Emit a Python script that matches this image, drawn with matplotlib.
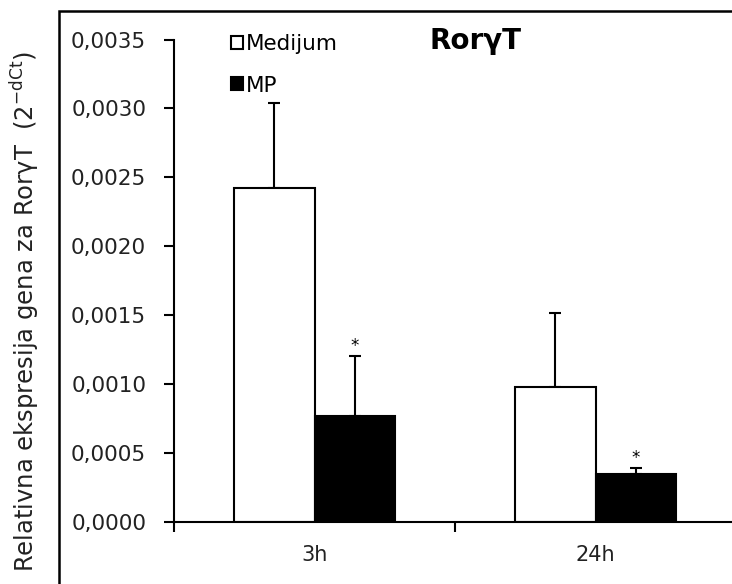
import matplotlib
matplotlib.use("Agg")
import matplotlib.pyplot as plt
import numpy as np
from matplotlib.ticker import FuncFormatter, FixedLocator
from matplotlib.patches import Rectangle

categories = ["3h", "24h"]
series_names = ["Medijum", "MP"]
medijum = [0.00242, 0.000975]
medijum_err = [0.00062, 0.000537]
mp = [0.000766, 0.000345]
mp_err = [0.000436, 0.000041]
significant_mp = [True, True]
yticks = [0.0, 0.0005, 0.0010, 0.0015, 0.0020, 0.0025, 0.0030, 0.0035]

plt.rcParams['font.family'] = ['DejaVu Sans']

W, H = 732, 584
fig = plt.figure(figsize=(W / 100, H / 100), dpi=100)
ax = fig.add_axes([174 / W, 62.5 / H, (736 - 174) / W, (521.5 - 39.5) / H])

x = np.arange(len(categories))
bw = 0.288
ax.bar(x - bw / 2, medijum, bw, color="white", edgecolor="black", linewidth=1.5,
       label=series_names[0], zorder=2)
ax.bar(x + bw / 2, mp, bw, color="black", edgecolor="black", linewidth=1.5,
       label=series_names[1], zorder=2)
ax.errorbar(x - bw / 2, medijum, yerr=[np.zeros(len(x)), medijum_err], fmt="none",
            ecolor="black", elinewidth=1.5, capsize=4.5, capthick=1.5, zorder=1)
ax.errorbar(x + bw / 2, mp, yerr=[np.zeros(len(x)), mp_err], fmt="none",
            ecolor="black", elinewidth=1.5, capsize=4.5, capthick=1.5, zorder=3)
for i, sig in enumerate(significant_mp):
    if sig:
        ax.annotate("*", (x[i] + bw / 2, mp[i] + mp_err[i]), xytext=(0, 1),
                    textcoords="offset points", ha="center", va="bottom", fontsize=12)

ax.set_xlim(-0.5, 1.5)
ax.set_ylim(0, 0.0035)
ax.spines["top"].set_visible(False)
ax.spines["right"].set_visible(False)
for s in ("left", "bottom"):
    ax.spines[s].set_linewidth(1.5)
ax.yaxis.set_major_locator(FixedLocator(yticks))
ax.yaxis.set_major_formatter(FuncFormatter(lambda v, p: f"{v:.4f}".replace(".", ",")))
ax.tick_params(axis="y", direction="out", length=7, width=1.5, labelsize=15.5, pad=13,
               colors="black", labelcolor="#222222")
ax.set_xticks([-0.5, 0.5, 1.5])
ax.set_xticklabels([])
ax.set_xticks(x, minor=True)
ax.set_xticklabels(categories, minor=True)
ax.tick_params(axis="x", which="major", direction="out", length=7, width=1.5)
ax.tick_params(axis="x", which="minor", length=0, labelsize=15, pad=17, labelcolor="#222222")

ax.set_ylabel("Relativna ekspresija gena za RorγT  (2$^{\\mathrm{-dCt}}$)", fontsize=17.5,
              color="#222222")
ax.yaxis.set_label_coords(-132 / (736 - 174), 0.435)

ax.text(0.5, 1.0, "RorγT", transform=ax.transAxes, fontsize=20, fontweight="bold",
        ha="left", va="top")
t = ax.texts[-1]
t.set_transform(fig.transFigure)
t.set_position((430 / W, 1 - 27 / H))

leg = fig.legend(loc="upper left", bbox_to_anchor=(231 / W, 1 - 34 / H), frameon=False,
                 fontsize=15.5, handlelength=0.55, handleheight=0.55, handletextpad=0.15,
                 labelspacing=1.0, borderpad=0, borderaxespad=0)

fig.add_artist(Rectangle((59 / W, -0.1), 1.0, (H - 11) / H + 0.1, transform=fig.transFigure,
                         fill=False, edgecolor="black", linewidth=1.8))

fig.savefig("out.png", dpi=100)
